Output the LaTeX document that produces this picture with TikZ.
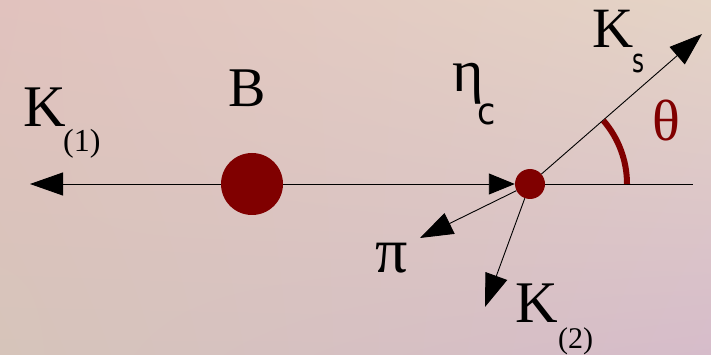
\documentclass[tikz,border=0pt]{standalone}
\usepackage{fontspec}
\setmainfont{Liberation Serif}
\newfontfamily\subsans{DejaVu Sans}
\usetikzlibrary{arrows.meta,shadings,calc}
\definecolor{dred}{RGB}{128,0,0}
\definecolor{bgUL}{RGB}{225,194,190}
\definecolor{bgUR}{RGB}{229,212,198}
\definecolor{bgLL}{RGB}{214,196,186}
\definecolor{bgLR}{RGB}{214,188,202}
\tikzset{
  lbl/.style={inner sep=0pt, anchor=base west, text=black},
  conn/.style={line width=0.9pt, black},
  arrbig/.style={conn, -{Triangle[length=33pt, width=23pt]}},
  arrsm/.style={conn, -{Triangle[length=26pt, width=21pt]}},
  dot/.style={circle, fill=dred, draw=none, inner sep=0pt},
}
\newcommand{\fs}[1]{\fontsize{#1}{#1}\selectfont}
\begin{document}
\begin{tikzpicture}[x=1pt,y=-1pt]
\useasboundingbox (0,0) rectangle (711,355);
\shade[upper left=bgUL, upper right=bgUR, lower left=bgLL, lower right=bgLR] (0,0) rectangle (711,355);
% particles
\node[dot, minimum size=62pt] (B) at (252,184) {};
\node[dot, minimum size=30pt] (eta) at (530,184) {};
\coordinate (L) at (30,184);
\coordinate (R) at (693,184);
\coordinate (ks) at (702,34);
\coordinate (pi) at (420,238);
\coordinate (k2) at (485,307);
% connectors
\draw[arrbig] (B) -- (L);
\draw[arrsm] (B) -- (eta);
\draw[conn] (eta) -- (R);
\draw[arrbig] (eta) -- (ks);
\draw[arrbig] (eta) -- (pi);
\draw[arrbig] (eta) -- (k2);
% angle
\draw[dred, line width=6pt] ($(eta)+(97,0)$) arc[start angle=0, end angle=-40.9, radius=97];
% labels
\node[lbl] (K1) at (23,127) {\fs{59}K};
\node[lbl] (K1s) at (63,152) {\fs{32}(1)};
\node[lbl] (Bl) at (228,107) {\fs{56}B};
\node[lbl] (etal) at (452,92) {\fs{60}η};
\node[lbl, xscale=0.9] (etas) at (477,125) {\subsans\fs{37}c};
\node[lbl] (Ksl) at (592,48) {\fs{57}K};
\node[lbl, xscale=0.7] (Kss) at (632,73) {\subsans\fs{33}s};
\node[lbl] (K2) at (515,322) {\fs{59}K};
\node[lbl] (K2s) at (558,348) {\fs{30}(2)};
\node[lbl] (pil) at (375,272) {\fs{64}π};
\node[lbl, text=dred] (th) at (652,141) {\fs{58}θ};
\end{tikzpicture}
\end{document}
